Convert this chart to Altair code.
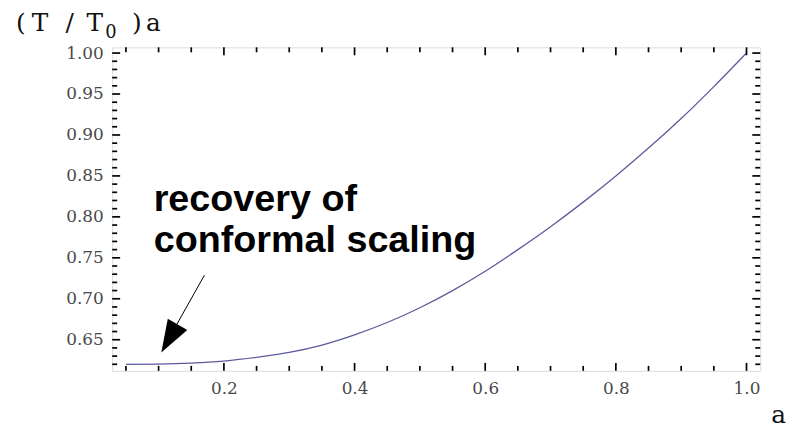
import altair as alt
import pandas as pd

# ---- data ----
a_vals = [0.05, 0.10, 0.15, 0.20, 0.25, 0.30, 0.35, 0.40, 0.45, 0.50,
          0.55, 0.60, 0.65, 0.70, 0.75, 0.80, 0.85, 0.90, 0.95, 1.00]
ratio_vals = [0.620, 0.6203, 0.6215, 0.624, 0.6285, 0.6345, 0.6435, 0.656, 0.671, 0.689,
              0.710, 0.7336, 0.760, 0.788, 0.818, 0.850, 0.884, 0.920, 0.959, 1.000]

x_major = [0.2, 0.4, 0.6, 0.8, 1.0]
x_minor = [0.05, 0.10, 0.15, 0.25, 0.30, 0.35, 0.45, 0.50, 0.55,
           0.65, 0.70, 0.75, 0.85, 0.90, 0.95]
y_major = [0.65, 0.70, 0.75, 0.80, 0.85, 0.90, 0.95, 1.00]
y_minor = [0.62, 0.63, 0.64, 0.66, 0.67, 0.68, 0.69, 0.71, 0.72, 0.73, 0.74,
           0.76, 0.77, 0.78, 0.79, 0.81, 0.82, 0.83, 0.84, 0.86, 0.87, 0.88, 0.89,
           0.91, 0.92, 0.93, 0.94, 0.96, 0.97, 0.98, 0.99]

note_lines = ["recovery of", "conformal scaling"]
note_x = [0.0925, 0.0925]
note_y = [0.8075, 0.757]

arrow_start = (0.1702, 0.7288)
arrow_end = (0.1275, 0.6682)
arrow_head = (0.1166, 0.6516)

# title glyphs: (T / T0) a
title_glyphs = ["(", "T", "/", "T", ")", "a"]
title_subscript = "0"
x_title = "a"

W, H = 653, 326
xs = alt.Scale(domain=[0.029, 1.021], nice=False, zero=False)
ys = alt.Scale(domain=[0.612, 1.007], nice=False, zero=False)

label_font = "DejaVu Serif"
LABEL_SIZE = 17
x_axis = alt.Axis(values=x_major, format=".1f", ticks=False, domain=False, grid=False,
                  labelFont=label_font, labelFontSize=LABEL_SIZE, labelColor="#4a4a4a",
                  labelPadding=10, tickSize=0, title=None, labelFlush=False)
y_axis = alt.Axis(values=y_major, format=".2f", ticks=False, domain=False, grid=False,
                  labelFont=label_font, labelFontSize=LABEL_SIZE, labelColor="#4a4a4a",
                  labelPadding=9, tickSize=0, title=None, labelFlush=False)

def X(f):
    return alt.X(f, scale=xs, axis=x_axis)

def Y(f):
    return alt.Y(f, scale=ys, axis=y_axis)

curve_df = pd.DataFrame({"a": a_vals, "r": ratio_vals})
xmaj = pd.DataFrame({"v": x_major})
xmin = pd.DataFrame({"v": x_minor})
ymaj = pd.DataFrame({"v": y_major})
ymin = pd.DataFrame({"v": y_minor})

curve = alt.Chart(curve_df).mark_line(
    color="#5b5b9e", strokeWidth=1.3, interpolate="monotone"
).encode(x=X("a:Q"), y=Y("r:Q"))

TICK_W = 1.7
MAJ, MIN = 8, 5

def xticks(df, length):
    bottom = alt.Chart(df).mark_rule(color="black", strokeWidth=TICK_W).encode(
        x=X("v:Q"), y=alt.value(H), y2=alt.value(H - length))
    top = alt.Chart(df).mark_rule(color="black", strokeWidth=TICK_W).encode(
        x=X("v:Q"), y=alt.value(0), y2=alt.value(length))
    return [bottom, top]

def yticks(df, length):
    left = alt.Chart(df).mark_rule(color="black", strokeWidth=TICK_W).encode(
        y=Y("v:Q"), x=alt.value(0), x2=alt.value(length))
    right = alt.Chart(df).mark_rule(color="black", strokeWidth=TICK_W).encode(
        y=Y("v:Q"), x=alt.value(W), x2=alt.value(W - length))
    return [left, right]

ticks = xticks(xmaj, MAJ) + xticks(xmin, MIN) + yticks(ymaj, MAJ) + yticks(ymin, MIN)

note_df = pd.DataFrame({"t": note_lines, "x": note_x, "y": note_y})
note = alt.Chart(note_df).mark_text(
    font="Liberation Sans", fontWeight="bold", fontSize=38, align="left",
    baseline="alphabetic", color="black"
).encode(x=X("x:Q"), y=Y("y:Q"), text="t:N")

arrow_df = pd.DataFrame({"x": [arrow_start[0]], "y": [arrow_start[1]],
                         "x2": [arrow_end[0]], "y2": [arrow_end[1]]})
arrow_line = alt.Chart(arrow_df).mark_rule(color="black", strokeWidth=1).encode(
    x=X("x:Q"), y=Y("y:Q"), x2="x2:Q", y2="y2:Q")

head_df = pd.DataFrame({"x": [arrow_head[0]], "y": [arrow_head[1]]})
arrow_tip = alt.Chart(head_df).mark_point(
    shape="M0,1L0.694,-1L-0.694,-1Z", size=1069, angle=30, filled=True,
    color="black", opacity=1, strokeWidth=0
).encode(x=X("x:Q"), y=Y("y:Q"))

one = pd.DataFrame({"k": [0]})
title_font = "DejaVu Serif"

def glyph(txt, px, py, size):
    return alt.Chart(one).mark_text(
        text=txt, font=title_font, fontSize=size, align="left",
        baseline="alphabetic", color="#111111"
    ).encode(x=alt.value(px), y=alt.value(py))

title_x = [-97, -81, -47, -26, 20, 34]
title_layers = [glyph(g, px, -16, 25) for g, px in zip(title_glyphs, title_x)]
title_layers.append(glyph(title_subscript, -7, -9, 18))
title_layers.append(glyph(x_title, 664, 379, 25))

chart = alt.layer(
    curve, *ticks, note, arrow_line, arrow_tip, *title_layers
).properties(
    width=W, height=H,
    autosize=alt.AutoSizeParams(type="none"),
    padding={"left": 105, "top": 38, "right": 30, "bottom": 62},
).configure_view(stroke="black", strokeWidth=2).configure_axis(
    labelFont=label_font, labelFontSize=LABEL_SIZE, labelColor="#4a4a4a"
).configure(background="white")

chart.save("out.html", embed_options={"renderer": "svg", "actions": False})
